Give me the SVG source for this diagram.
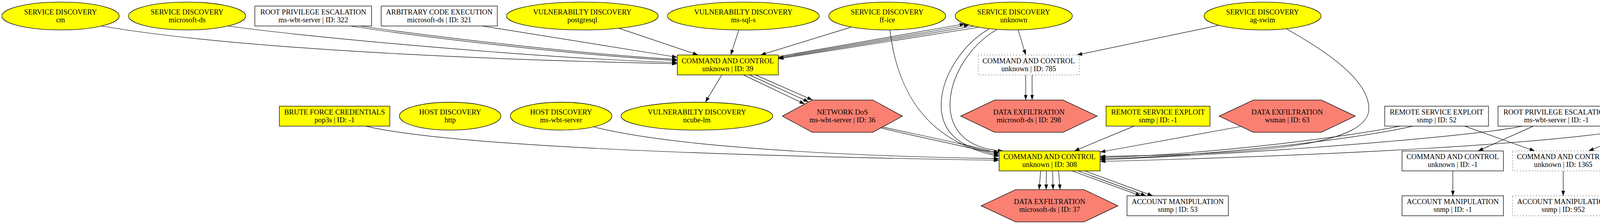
<svg xmlns="http://www.w3.org/2000/svg" width="7192" height="573" viewBox="0 0 7192 573">
<style>
.b{fill:#fff;stroke:#000;stroke-width:1.3}
.y{fill:#ff0;stroke:#000;stroke-width:1.3}
.h{fill:#fa8072;stroke:#000;stroke-width:1.3}
.d{stroke-dasharray:1.5,6}
text{font-family:"Liberation Serif","Times New Roman",serif;font-size:18.67px;text-anchor:middle;fill:#000}
#edges path{fill:none;stroke:#000;stroke-width:1.2;marker-end:url(#a)}
</style>
<defs>
<marker id="a" markerUnits="userSpaceOnUse" markerWidth="14" markerHeight="10" viewBox="0 0 14 10" refX="13.3" refY="4.7" orient="auto"><path d="M0,0 L13.3,4.7 L0,9.4 z" fill="#000"/></marker>
</defs>
<rect width="7192" height="573" fill="#fff"/>
<g id="edges">
<path d="M260.2,66.5 C600,125 1233.8,153 1733.8,163"/>
<path d="M583.5,66.5 C800,97 1400,150 1733.8,160"/>
<path d="M896.6,66.5 C1050,90 1450,140 1733.8,155"/>
<path d="M921.4,66.5 C1070,88 1460,137 1733.8,152"/>
<path d="M1234.4,66.5 L1733.8,146.5"/>
<path d="M1584.6,72.4 L1787,140.6"/>
<path d="M1891,77.5 L1870.8,140.6"/>
<path d="M2178.8,69.4 L1947.3,140.6"/>
<path d="M1992.5,144.5 L2470,61"/>
<path d="M1992.5,146.5 L2481,64"/>
<path d="M2492,67 L1992.5,148.5"/>
<path d="M2504,70 L1992.5,150.5"/>
<path d="M1847.8,191.6 L1805.7,261.5"/>
<path d="M1903.3,191.6 L2060,266.2"/>
<path d="M1918.6,191.6 L2070,260.8"/>
<path d="M1933.9,191.6 L2080,255.8"/>
<path d="M2259.2,324.9 C2350,345 2480,370 2557.7,393"/>
<path d="M2255,327.1 C2345,350 2480,375 2557.7,397"/>
<path d="M2278.3,76.7 C2295,220 2360,360 2557.7,400"/>
<path d="M2532,74 C2400,150 2330,380 2557.7,389"/>
<path d="M2553,75 C2420,150 2360,375 2568,386.2"/>
<path d="M1519.5,324.5 C1650,358 1950,395 2557.7,406"/>
<path d="M936.7,322.6 C1100,362 1600,395 2557.7,410"/>
<path d="M2903.2,322.6 L2750.1,386.2"/>
<path d="M3176.8,323.5 L2816.3,389"/>
<path d="M3292.7,73.6 C3430,150 3510,220 3504,285 C3490,360 3300,395 2816.3,400"/>
<path d="M3583.5,322.6 C3450,350 3100,395 2816.3,403"/>
<path d="M3617,322.6 C3480,355 3100,400 2816.3,406"/>
<path d="M3896.6,322.6 C3800,345 3300,388 2816.3,409"/>
<path d="M4206,325 C4000,368 3400,398 2816.3,413"/>
<path d="M2625.8,191.6 L2625.8,255.8"/>
<path d="M2642.2,191.6 L2642.2,255.8"/>
<path d="M2606.6,76.6 L2625.8,140.6"/>
<path d="M3120.5,64.7 L2757,140.6"/>
<path d="M2664,437.2 L2660.2,485.1"/>
<path d="M2678.6,437.2 L2678.2,485.1"/>
<path d="M2694.6,437.2 L2695.8,485.1"/>
<path d="M2710,437.2 L2713.8,485.1"/>
<path d="M2744.4,437.2 L2920.4,500.9"/>
<path d="M2759.7,437.2 L2933.8,500.9"/>
<path d="M2777,437.2 L2951,500.9"/>
<path d="M3749.2,322.6 L3929.1,386.2"/>
<path d="M3925.3,322.6 L3783.7,386.2"/>
<path d="M3719.4,437.2 L3719.4,500.9"/>
<path d="M4001.8,437.2 L4001.8,500.9"/>
<path d="M4212,326.2 L4066.8,386.2"/>
<path d="M4284.5,332.7 L4284.5,386.2"/>
<path d="M4356.9,326.1 L4506.1,386.2"/>
<path d="M4284.5,437.2 L4284.5,500.9"/>
<path d="M4571.2,322.6 L4571.2,386.2"/>
<path d="M4573.1,437.2 L4574.2,485.1"/>
<path d="M4875.3,76.6 L4875.3,140.6"/>
<path d="M4875.3,191.6 L4875.3,271.6"/>
<path d="M5178,66.5 L5178,140.6"/>
<path d="M5178,191.6 L5178,271.6"/>
<path d="M5178,322.6 L5178,386.2"/>
<path d="M5480.4,66.5 L5480.4,140.6"/>
<path d="M5480.4,191.6 L5480.4,271.6"/>
<path d="M5808.7,66.5 L5808.7,140.6"/>
<path d="M5808.7,191.6 L5808.7,255.8"/>
<path d="M6180.6,66.5 L6180.6,140.6"/>
<path d="M6180.6,191.6 L6180.6,255.8"/>
<path d="M6483.3,66.5 L6483.3,140.6"/>
<path d="M6768.4,66.5 L6768.4,140.6"/>
<path d="M7054.6,66.5 L7054.6,125"/>
</g>
<g id="N1"><ellipse class="y" cx="155" cy="41" rx="150.3" ry="35.6"/><text><tspan x="155" y="36.5">SERVICE DISCOVERY</tspan><tspan x="155" y="56.5">cm</tspan></text></g>
<g id="N2"><ellipse class="y" cx="479" cy="41" rx="150" ry="35.6"/><text><tspan x="479" y="36.5">SERVICE DISCOVERY</tspan><tspan x="479" y="56.5">microsoft-ds</tspan></text></g>
<g id="N3"><rect class="b" x="652.4" y="15.5" width="298.9" height="51"/><text><tspan x="801.85" y="36.5">ROOT PRIVILEGE ESCALATION</tspan><tspan x="801.85" y="56.5">ms-wbt-server | ID: 322</tspan></text></g>
<g id="N4"><rect class="b" x="975.8" y="15.5" width="297.3" height="51"/><text><tspan x="1124.45" y="36.5">ARBITRARY CODE EXECUTION</tspan><tspan x="1124.45" y="56.5">microsoft-ds | ID: 321</tspan></text></g>
<g id="N7"><ellipse class="y" cx="1490.8" cy="41" rx="194.4" ry="35.6"/><text><tspan x="1490.8" y="36.5">VULNERABILTY DISCOVERY</tspan><tspan x="1490.8" y="56.5">postgresql</tspan></text></g>
<g id="N8"><ellipse class="y" cx="1902.9" cy="41" rx="194.4" ry="35.6"/><text><tspan x="1902.9" y="36.5">VULNERABILTY DISCOVERY</tspan><tspan x="1902.9" y="56.5">ms-sql-s</tspan></text></g>
<g id="N12"><ellipse class="y" cx="2271.2" cy="41" rx="149.8" ry="35.6"/><text><tspan x="2271.2" y="36.5">SERVICE DISCOVERY</tspan><tspan x="2271.2" y="56.5">ff-ice</tspan></text></g>
<g id="N14"><ellipse class="y" cx="2595.2" cy="41" rx="150" ry="35.6"/><text><tspan x="2595.2" y="36.5">SERVICE DISCOVERY</tspan><tspan x="2595.2" y="56.5">unknown</tspan></text></g>
<g id="N21"><ellipse class="y" cx="3232.1" cy="41" rx="149.8" ry="35.6"/><text><tspan x="3232.1" y="36.5">SERVICE DISCOVERY</tspan><tspan x="3232.1" y="56.5">ag-swim</tspan></text></g>
<g id="N35"><ellipse class="y" cx="4875.2" cy="41" rx="149.8" ry="35.6"/><text><tspan x="4875.2" y="36.5">SERVICE DISCOVERY</tspan><tspan x="4875.2" y="56.5">netbios-ssn</tspan></text></g>
<g id="N38"><rect class="y d" x="5048.7" y="15.5" width="258.7" height="51"/><text><tspan x="5178.05" y="36.5">COMMAND AND CONTROL</tspan><tspan x="5178.05" y="56.5">unknown | ID: 1578</tspan></text></g>
<g id="N42"><rect class="b d" x="5338.8" y="15.5" width="283.1" height="51"/><text><tspan x="5480.35" y="36.5">BRUTE FORCE CREDENTIALS</tspan><tspan x="5480.35" y="56.5">unknown | ID: 1362</tspan></text></g>
<g id="N45"><rect class="b d" x="5679.3" y="15.5" width="258.7" height="51"/><text><tspan x="5808.65" y="36.5">ACCOUNT MANIPULATION</tspan><tspan x="5808.65" y="56.5">snmp | ID: 712</tspan></text></g>
<g id="N48"><rect class="b d" x="6050.9" y="15.5" width="259.1" height="51"/><text><tspan x="6180.45" y="36.5">ACCOUNT MANIPULATION</tspan><tspan x="6180.45" y="56.5">snmp | ID: 975</tspan></text></g>
<g id="N51"><rect class="y" x="6353.6" y="15.5" width="259" height="51"/><text><tspan x="6483.1" y="36.5">COMMAND AND CONTROL</tspan><tspan x="6483.1" y="56.5">appiq-mgmt | ID: -1</tspan></text></g>
<g id="N53"><rect class="y d" x="6636.7" y="15.5" width="262.5" height="51"/><text><tspan x="6767.95" y="36.5">COMMAND AND CONTROL</tspan><tspan x="6767.95" y="56.5">nv-video | ID: 1388</tspan></text></g>
<g id="N55"><rect class="y d" x="6923.3" y="15.5" width="262.5" height="51"/><text><tspan x="7054.55" y="36.5">COMMAND AND CONTROL</tspan><tspan x="7054.55" y="56.5">unknown | ID: 541</tspan></text></g>
<g id="N9"><rect class="y" x="1733.8" y="140.6" width="258.7" height="51"/><text><tspan x="1863.15" y="161.6">COMMAND AND CONTROL</tspan><tspan x="1863.15" y="181.6">unknown | ID: 39</tspan></text></g>
<g id="N15"><rect class="b d" x="2504.1" y="140.6" width="258.7" height="51"/><text><tspan x="2633.45" y="161.6">COMMAND AND CONTROL</tspan><tspan x="2633.45" y="181.6">unknown | ID: 785</tspan></text></g>
<g id="N36"><rect class="b d" x="4745.3" y="140.6" width="259.4" height="51"/><text><tspan x="4875" y="161.6">COMMAND AND CONTROL</tspan><tspan x="4875" y="181.6">unknown | ID: 420</tspan></text></g>
<g id="N39"><rect class="b d" x="5028.4" y="140.6" width="298.9" height="51"/><text><tspan x="5177.85" y="161.6">ROOT PRIVILEGE ESCALATION</tspan><tspan x="5177.85" y="181.6">ms-wbt-server | ID: 1258</tspan></text></g>
<g id="N43"><rect class="b d" x="5351" y="140.6" width="259.1" height="51"/><text><tspan x="5480.55" y="161.6">COMMAND AND CONTROL</tspan><tspan x="5480.55" y="181.6">unknown | ID: 945</tspan></text></g>
<g id="N46"><rect class="b" x="5679.3" y="140.6" width="258.7" height="51"/><text><tspan x="5808.65" y="161.6">COMMAND AND CONTROL</tspan><tspan x="5808.65" y="181.6">smtp | ID: 250</tspan></text></g>
<g id="N49"><rect class="b d" x="6050.9" y="140.6" width="259.1" height="51"/><text><tspan x="6180.45" y="161.6">COMMAND AND CONTROL</tspan><tspan x="6180.45" y="181.6">smtp | ID: 414</tspan></text></g>
<g id="N52"><rect class="y" x="6334.4" y="140.6" width="298.1" height="51"/><text><tspan x="6483.45" y="161.6">ARBITRARY CODE EXECUTION</tspan><tspan x="6483.45" y="181.6">microsoft-ds | ID: 309</tspan></text></g>
<g id="N54"><rect class="b d" x="6671.6" y="140.6" width="192.8" height="51"/><text><tspan x="6768" y="161.6">DEFENSE EVASION</tspan><tspan x="6768" y="181.6">nv-video | ID: 989</tspan></text></g>
<g id="N56"><polygon class="h" points="6914,166.3 6984,125 7125,125 7189,166.3 7125,207.6 6984,207.6"/><text><tspan x="7054.5" y="161.8">DATA DELIVERY</tspan><tspan x="7054.5" y="181.8">unknown | ID: 136</tspan></text></g>
<g id="N5"><rect class="y" x="715.2" y="271.6" width="282.8" height="51"/><text><tspan x="856.6" y="292.6">BRUTE FORCE CREDENTIALS</tspan><tspan x="856.6" y="312.6">pop3s | ID: -1</tspan></text></g>
<g id="N6"><ellipse class="y" cx="1152.4" cy="297.1" rx="130" ry="35.6"/><text><tspan x="1152.4" y="292.6">HOST DISCOVERY</tspan><tspan x="1152.4" y="312.6">http</tspan></text></g>
<g id="N10"><ellipse class="y" cx="1436.5" cy="297.1" rx="130.1" ry="35.6"/><text><tspan x="1436.5" y="292.6">HOST DISCOVERY</tspan><tspan x="1436.5" y="312.6">ms-wbt-server</tspan></text></g>
<g id="N11"><ellipse class="y" cx="1784.1" cy="297.1" rx="194.2" ry="35.6"/><text><tspan x="1784.1" y="292.6">VULNERABILTY DISCOVERY</tspan><tspan x="1784.1" y="312.6">ncube-lm</tspan></text></g>
<g id="N13"><polygon class="h" points="2002.8,297.1 2079.3,255.8 2234.3,255.8 2310.1,297.1 2234.3,338.4 2079.3,338.4"/><text><tspan x="2156.5" y="292.6">NETWORK DoS</tspan><tspan x="2156.5" y="312.6">ms-wbt-server | ID: 36</tspan></text></g>
<g id="N16"><polygon class="h" points="2459.3,297.1 2546.6,255.8 2721.4,255.8 2808.7,297.1 2721.4,338.4 2546.6,338.4"/><text><tspan x="2634" y="292.6">DATA EXFILTRATION</tspan><tspan x="2634" y="312.6">microsoft-ds | ID: 298</tspan></text></g>
<g id="N17"><rect class="y" x="2831.6" y="271.6" width="266" height="51"/><text><tspan x="2964.6" y="292.6">REMOTE SERVICE EXPLOIT</tspan><tspan x="2964.6" y="312.6">snmp | ID: -1</tspan></text></g>
<g id="N22"><polygon class="h" points="3120.9,297.1 3208.5,255.8 3382.7,255.8 3469.5,297.1 3382.7,338.4 3208.5,338.4"/><text><tspan x="3295.2" y="292.6">DATA EXFILTRATION</tspan><tspan x="3295.2" y="312.6">wsman | ID: 63</tspan></text></g>
<g id="N23"><rect class="b" x="3544.9" y="271.6" width="265.6" height="51"/><text><tspan x="3677.7" y="292.6">REMOTE SERVICE EXPLOIT</tspan><tspan x="3677.7" y="312.6">snmp | ID: 52</tspan></text></g>
<g id="N26"><rect class="b" x="3834.9" y="271.6" width="298.9" height="51"/><text><tspan x="3984.35" y="292.6">ROOT PRIVILEGE ESCALATION</tspan><tspan x="3984.35" y="312.6">ms-wbt-server | ID: -1</tspan></text></g>
<g id="N29"><ellipse class="y" cx="4284.2" cy="297.1" rx="125.5" ry="35.6"/><text><tspan x="4284.2" y="292.6">INFO DISCOVERY</tspan><tspan x="4284.2" y="312.6">xdmcp</tspan></text></g>
<g id="N32"><rect class="b d" x="4438" y="271.6" width="266.3" height="51"/><text><tspan x="4571.15" y="292.6">REMOTE SERVICE EXPLOIT</tspan><tspan x="4571.15" y="312.6">snmp | ID: 1368</tspan></text></g>
<g id="N37"><rect class="b" x="4728.5" y="271.6" width="293.4" height="51"/><text><tspan x="4875.2" y="292.6">USER PRIVILEGE ESCALATION</tspan><tspan x="4875.2" y="312.6">kerberos | ID: 79</tspan></text></g>
<g id="N40"><rect class="b d" x="5048.7" y="271.6" width="258.7" height="51"/><text><tspan x="5178.05" y="292.6">COMMAND AND CONTROL</tspan><tspan x="5178.05" y="312.6">unknown | ID: 792</tspan></text></g>
<g id="N44"><rect class="b d" x="5351" y="271.6" width="259.1" height="51"/><text><tspan x="5480.55" y="292.6">ACCOUNT MANIPULATION</tspan><tspan x="5480.55" y="312.6">snmp | ID: 391</tspan></text></g>
<g id="N47"><polygon class="h" points="5634.2,297.1 5721.4,255.8 5895.9,255.8 5983.2,297.1 5895.9,338.4 5721.4,338.4"/><text><tspan x="5808.7" y="292.6">DATA EXFILTRATION</tspan><tspan x="5808.7" y="312.6">http | ID: 26</tspan></text></g>
<g id="N50"><polygon class="h" points="6005.7,297.1 6093,255.8 6267.9,255.8 6355.1,297.1 6267.9,338.4 6093,338.4"/><text><tspan x="6180.4" y="292.6">DATA EXFILTRATION</tspan><tspan x="6180.4" y="312.6">smtp | ID: 74</tspan></text></g>
<g id="N18"><rect class="y" x="2557.7" y="386.2" width="258.6" height="51"/><text><tspan x="2687" y="407.2">COMMAND AND CONTROL</tspan><tspan x="2687" y="427.2">unknown | ID: 308</tspan></text></g>
<g id="N24"><rect class="b" x="3589.3" y="386.2" width="259.4" height="51"/><text><tspan x="3719" y="407.2">COMMAND AND CONTROL</tspan><tspan x="3719" y="427.2">unknown | ID: -1</tspan></text></g>
<g id="N27"><rect class="b d" x="3872.4" y="386.2" width="258.7" height="51"/><text><tspan x="4001.75" y="407.2">COMMAND AND CONTROL</tspan><tspan x="4001.75" y="427.2">unknown | ID: 1365</tspan></text></g>
<g id="N30"><rect class="b d" x="4154.8" y="386.2" width="258.7" height="51"/><text><tspan x="4284.15" y="407.2">COMMAND AND CONTROL</tspan><tspan x="4284.15" y="427.2">unknown | ID: 1363</tspan></text></g>
<g id="N33"><rect class="b" x="4441.8" y="386.2" width="258.7" height="51"/><text><tspan x="4571.15" y="407.2">COMMAND AND CONTROL</tspan><tspan x="4571.15" y="427.2">unknown | ID: 956</tspan></text></g>
<g id="N41"><rect class="b" x="5028.4" y="386.2" width="298.9" height="51"/><text><tspan x="5177.85" y="407.2">ROOT PRIVILEGE ESCALATION</tspan><tspan x="5177.85" y="427.2">ms-wbt-server | ID: 302</tspan></text></g>
<g id="N19"><polygon class="h" points="2512.1,526.4 2600.1,485.1 2775,485.1 2861.9,526.4 2775,567.7 2600.1,567.7"/><text><tspan x="2687" y="521.9">DATA EXFILTRATION</tspan><tspan x="2687" y="541.9">microsoft-ds | ID: 37</tspan></text></g>
<g id="N20"><rect class="b" x="2885.2" y="500.9" width="259.4" height="51"/><text><tspan x="3014.9" y="521.9">ACCOUNT MANIPULATION</tspan><tspan x="3014.9" y="541.9">snmp | ID: 53</tspan></text></g>
<g id="N25"><rect class="b" x="3589.3" y="500.9" width="259.4" height="51"/><text><tspan x="3719" y="521.9">ACCOUNT MANIPULATION</tspan><tspan x="3719" y="541.9">snmp | ID: -1</tspan></text></g>
<g id="N28"><rect class="b d" x="3872.4" y="500.9" width="258.7" height="51"/><text><tspan x="4001.75" y="521.9">ACCOUNT MANIPULATION</tspan><tspan x="4001.75" y="541.9">snmp | ID: 952</tspan></text></g>
<g id="N31"><rect class="b d" x="4154.8" y="500.9" width="258.7" height="51"/><text><tspan x="4284.15" y="521.9">ACCOUNT MANIPULATION</tspan><tspan x="4284.15" y="541.9">snmp | ID: 950</tspan></text></g>
<g id="N34"><polygon class="h" points="4438,526.4 4507.3,485.1 4645.8,485.1 4715,526.4 4645.8,567.7 4507.3,567.7"/><text><tspan x="4576.5" y="521.9">DATA DELIVERY</tspan><tspan x="4576.5" y="541.9">wsman | ID: 399</tspan></text></g>
</svg>
